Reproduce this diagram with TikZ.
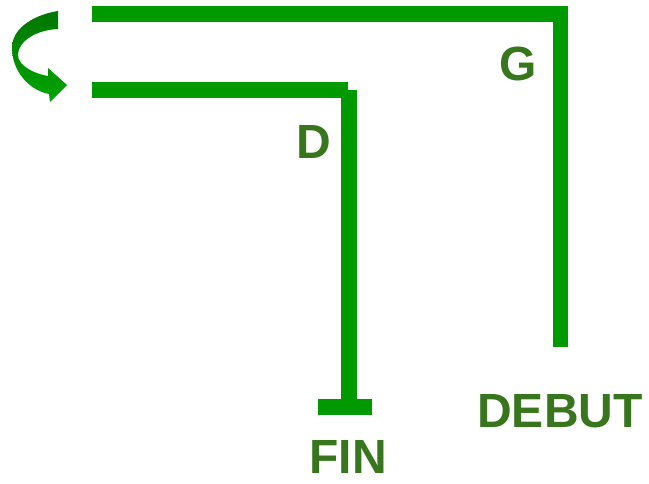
\documentclass[tikz,border=0pt]{standalone}
\usepackage{fontspec}
\setmainfont{Liberation Sans}
\definecolor{barGreen}{RGB}{0,153,0}
\definecolor{labelGreen}{RGB}{56,118,29}
\definecolor{arrowDark}{RGB}{0,118,0}
\definecolor{arrowLight}{RGB}{0,165,0}
\begin{document}
\begin{tikzpicture}[x=1pt,y=-1pt,
  bar/.style={fill=barGreen,draw=none},
  lbl/.style={inner sep=0pt,text=labelGreen,font=\fontsize{48}{48}\selectfont\bfseries}]
  \useasboundingbox (0,0) rectangle (649,483);

  % outer track: start bar and G leg
  \fill[bar] (92,6) rectangle (568,22);
  \fill[bar] (553,6) rectangle (568,347);

  % inner track: return bar, D leg and end stop
  \fill[bar] (92,82) rectangle (348,98);
  \fill[bar] (341,90) rectangle (357,399);
  \fill[bar] (318,399) rectangle (372,415);

  % U-turn arrow
  \shade[top color=arrowDark,bottom color=arrowLight,shading angle=0]
    (58,11) .. controls (38,14) and (12,26) .. (12,48)
    .. controls (12,70) and (28,90) .. (49,94)
    -- (50,102) -- (67,85) -- (48,68) -- (48,76)
    .. controls (35,74) and (18,66) .. (18,55)
    .. controls (18,42) and (35,30) .. (58,29) -- cycle;

  % labels
  \node[lbl] (g) at (518,64) {G};
  \node[lbl] (d) at (314,142) {D};
  \node[lbl] (fin) at (348,457) {FIN};
  \node[lbl] (debut) at (560,411) {DEBUT};
\end{tikzpicture}
\end{document}
